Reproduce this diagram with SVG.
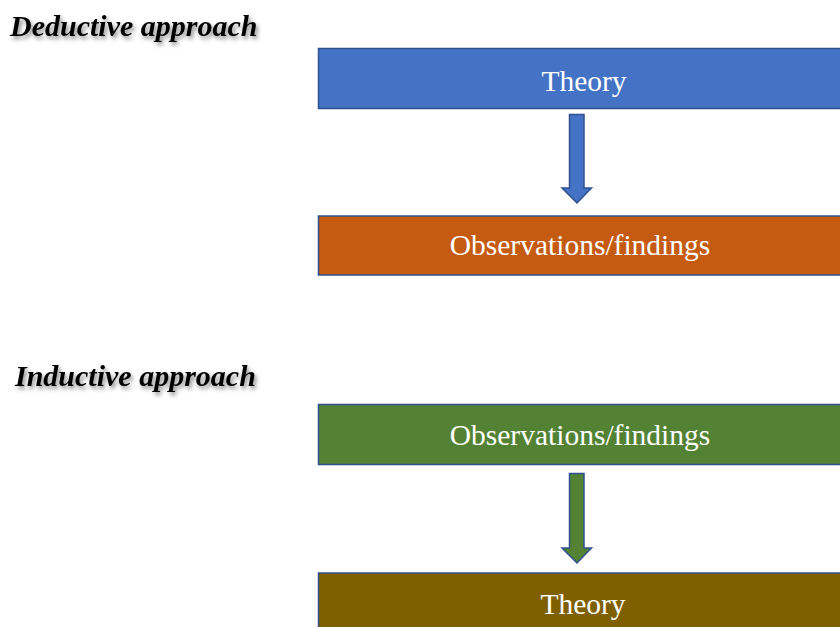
<svg xmlns="http://www.w3.org/2000/svg" width="840" height="627" viewBox="0 0 840 627">
<defs>
<filter id="sh" x="-10%" y="-30%" width="130%" height="180%">
<feDropShadow dx="2" dy="3" stdDeviation="2" flood-color="#000" flood-opacity="0.45"/>
</filter>
</defs>
<style>
.h{font-family:"Liberation Serif","Times New Roman",serif;font-weight:bold;font-style:italic;font-size:30px;fill:#000}
.box{stroke:#2F528F;stroke-width:1.5}
.t{font-family:"Liberation Serif","Times New Roman",serif;font-size:29.5px;fill:#fff;text-anchor:middle}
.arr{stroke:#2F528F;stroke-width:1.5;stroke-linejoin:miter}
</style>
<rect width="840" height="627" fill="#fff"/>
<g id="heading-deductive"><text class="h" x="10" y="36" filter="url(#sh)">Deductive approach</text></g>
<g id="heading-inductive"><text class="h" x="15" y="386" filter="url(#sh)">Inductive approach</text></g>
<g id="node-theory-1"><rect class="box" x="318.5" y="48.5" width="540" height="60" fill="#4472C4"/><text class="t" x="584" y="91">Theory</text></g>
<g id="node-obs-1"><rect class="box" x="318.5" y="216" width="540" height="59" fill="#C55A11"/><text class="t" x="580" y="255">Observations/findings</text></g>
<g id="node-obs-2"><rect class="box" x="318.5" y="404.5" width="540" height="60" fill="#548235"/><text class="t" x="580" y="445">Observations/findings</text></g>
<g id="node-theory-2"><rect class="box" x="318.5" y="573" width="540" height="70" fill="#7F6000"/><text class="t" x="583" y="614">Theory</text></g>
<g id="connectors">
<path class="arr" fill="#4472C4" d="M569.5 114.5 H584 V188 H591.5 L577 203 L562 188 H569.5 Z"/>
<path class="arr" fill="#548235" d="M569.5 473.5 H584 V548 H591.5 L577 563 L562 548 H569.5 Z"/>
</g>
</svg>
